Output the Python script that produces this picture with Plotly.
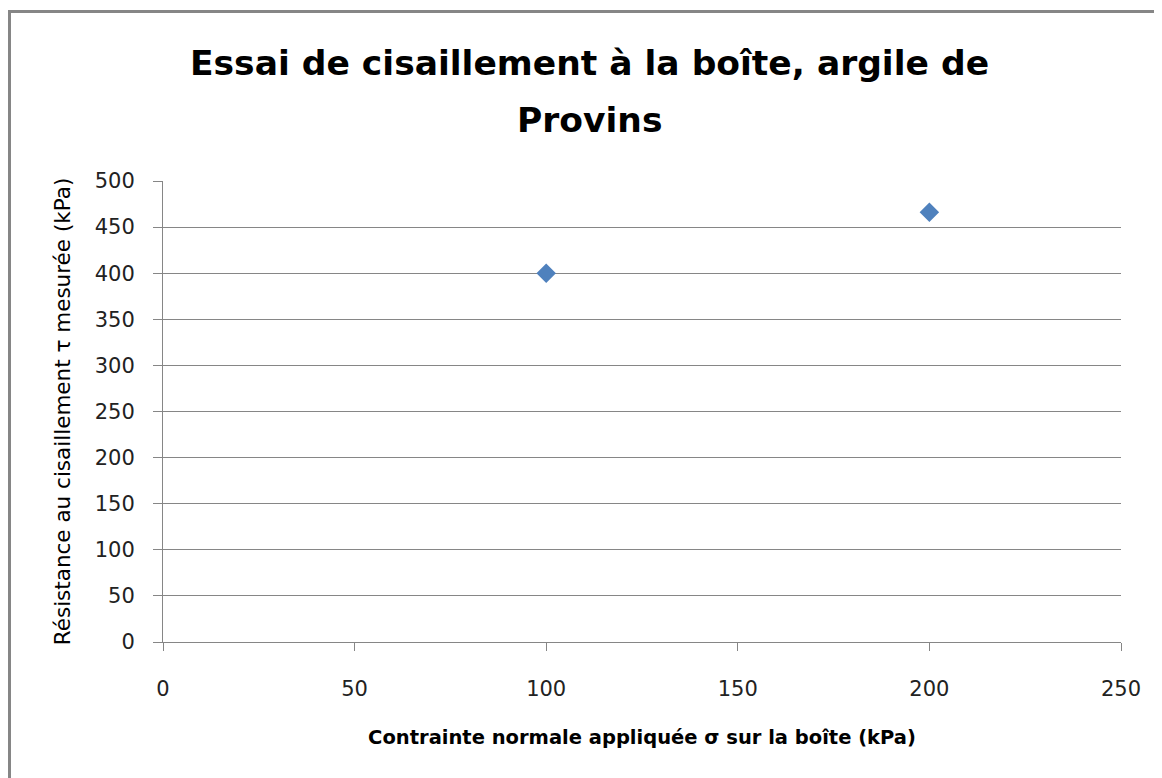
import plotly.graph_objects as go

sigma = [100, 200]
tau = [400, 466]
x_ticks = [0, 50, 100, 150, 200, 250]
y_ticks = [0, 50, 100, 150, 200, 250, 300, 350, 400, 450, 500]
title_lines = ["Essai de cisaillement à la boîte, argile de", "Provins"]
x_title = "Contrainte normale appliquée σ sur la boîte (kPa)"
y_title = "Résistance au cisaillement τ mesurée (kPa)"

OFF = 8  # page body margin
W, H = 1162 - OFF, 778 - OFF
L, T = 163 - OFF, 181 - OFF
R = W - (1121 - OFF)
B = H - (642 - OFF)
pw, ph = W - L - R, H - T - B

def px(x):
    return (x - OFF - L) / pw

def py(y):
    return (H - B - (y - OFF)) / ph

grey = "#868686"
FONT = "DejaVu Sans"

fig = go.Figure()
fig.add_trace(go.Scatter(
    x=sigma, y=tau, mode="markers",
    marker=dict(symbol="diamond", size=15, color="#4F81BD",
                line=dict(width=0)),
    showlegend=False, hoverinfo="x+y"))

fig.update_layout(
    width=W, height=H,
    margin=dict(l=L, r=R, t=T, b=B),
    paper_bgcolor="white", plot_bgcolor="white",
    font=dict(family=FONT, color="black"),
    xaxis=dict(range=[0, 250], tickvals=x_ticks, showgrid=False,
               zeroline=False, showline=True, linecolor=grey, linewidth=1,
               ticks="outside", ticklen=8, tickcolor=grey,
               tickfont=dict(size=21, family=FONT, color="#222"),
               ticklabelstandoff=20,
               title=dict(text=x_title, font=dict(size=19.5, family=FONT, weight="bold"),
                          standoff=30)),
    yaxis=dict(range=[0, 500], tickvals=y_ticks, showgrid=True,
               gridcolor=grey, gridwidth=1, zeroline=False,
               showline=True, linecolor=grey, linewidth=1,
               ticks="outside", ticklen=9, tickcolor=grey,
               tickfont=dict(size=21, family=FONT, color="#222"),
               ticklabelstandoff=14,
               title=dict(text=y_title, font=dict(size=21.5, family=FONT),
                          standoff=18)),
)

fig.add_shape(type="rect", xref="paper", yref="paper",
              x0=px(9.5), x1=px(1162 + 20), y0=py(778 + 20), y1=py(11.5),
              line=dict(color=grey, width=3), fillcolor="rgba(0,0,0,0)",
              layer="below")

fig.add_annotation(text=title_lines[0], xref="paper", yref="paper",
                   x=px(589), y=py(63), showarrow=False,
                   xanchor="center", yanchor="middle",
                   font=dict(size=34.5, family=FONT, weight="bold", color="black"))
fig.add_annotation(text=title_lines[1], xref="paper", yref="paper",
                   x=px(589), y=py(120), showarrow=False,
                   xanchor="center", yanchor="middle",
                   font=dict(size=34.5, family=FONT, weight="bold", color="black"))

fig.write_html("out.html")
